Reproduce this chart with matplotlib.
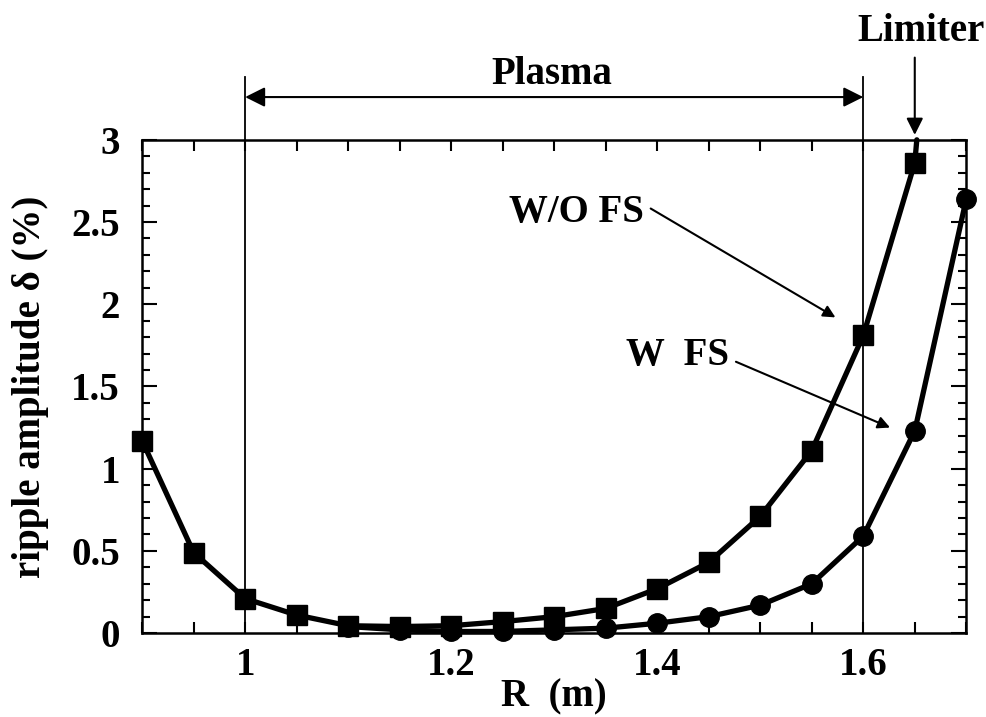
import matplotlib
matplotlib.use("Agg")
import matplotlib.pyplot as plt
from matplotlib.ticker import MultipleLocator

# Ripple amplitude without ferritic steel (squares)
r_wo = [0.90, 0.95, 1.00, 1.05, 1.10, 1.15, 1.20, 1.25, 1.30, 1.35,
        1.40, 1.45, 1.50, 1.55, 1.60, 1.65]
d_wo = [1.17, 0.49, 0.21, 0.11, 0.045, 0.04, 0.045, 0.07, 0.10, 0.15,
        0.27, 0.43, 0.71, 1.11, 1.81, 2.86]
# line carries on to the limiter at the top of the frame
r_wo_end = [1.65, 1.652]
d_wo_end = [2.86, 3.0]

# Ripple amplitude with ferritic steel (circles)
r_w = [1.10, 1.15, 1.20, 1.25, 1.30, 1.35, 1.40, 1.45, 1.50, 1.55,
       1.60, 1.65, 1.70]
d_w = [0.04, 0.02, 0.01, 0.01, 0.02, 0.03, 0.06, 0.10, 0.17, 0.30,
       0.59, 1.23, 2.64]

plasma_edges = [1.0, 1.6]
limiter_r = 1.65

plt.rcParams["font.family"] = "Liberation Serif"
plt.rcParams["font.weight"] = "bold"
plt.rcParams["font.size"] = 28
plt.rcParams["axes.linewidth"] = 1.8

fig = plt.figure(figsize=(9.87, 7.17), dpi=100)
ax = fig.add_axes([0.144, 0.117, 0.835, 0.688])

ax.plot(r_wo_end, d_wo_end, "k-", linewidth=3.8, solid_capstyle="round",
        clip_on=False, zorder=3)
ax.plot(r_wo, d_wo, "k-", marker="s", markersize=14, linewidth=3.8,
        clip_on=False, zorder=4)
ax.plot(r_w, d_w, "k-", marker="o", markersize=14, linewidth=3.8,
        clip_on=False, zorder=4)

# plasma boundaries
for x in plasma_edges:
    ax.plot([x, x], [0, 3.38], "k-", linewidth=1.3, clip_on=False, zorder=2)

ax.annotate("", xy=(plasma_edges[1], 3.26), xytext=(plasma_edges[0], 3.26),
            annotation_clip=False,
            arrowprops=dict(arrowstyle="<|-|>", color="k", lw=1.5,
                            mutation_scale=30, shrinkA=0, shrinkB=0))
ax.text(sum(plasma_edges) / 2 - 0.002, 3.34, "Plasma", ha="center",
        va="baseline", fontsize=28, fontweight="bold")

# limiter
ax.text(1.656, 3.6, "Limiter", ha="center", va="baseline",
        fontsize=28, fontweight="bold")
ax.annotate("", xy=(limiter_r, 3.03), xytext=(limiter_r, 3.5),
            annotation_clip=False,
            arrowprops=dict(arrowstyle="-|>", color="k", lw=1.5,
                            mutation_scale=25, shrinkA=0, shrinkB=0))

ax.annotate("W/O FS", xy=(1.573, 1.92), xytext=(1.322, 2.56),
            ha="center", va="center", fontsize=28, fontweight="bold",
            arrowprops=dict(arrowstyle="-|>", color="k", lw=1.5,
                            mutation_scale=18, shrinkA=3, shrinkB=0,
                            relpos=(1.0, 0.7)))
ax.annotate("W  FS", xy=(1.626, 1.25), xytext=(1.42, 1.69),
            ha="center", va="center", fontsize=28, fontweight="bold",
            arrowprops=dict(arrowstyle="-|>", color="k", lw=1.5,
                            mutation_scale=18, shrinkA=3, shrinkB=0,
                            relpos=(1.0, 0.4)))

ax.set_xlim(0.9, 1.7)
ax.set_ylim(0, 3)
ax.set_xticks([1.0, 1.2, 1.4, 1.6])
ax.set_xticklabels(["1", "1.2", "1.4", "1.6"])
ax.xaxis.set_minor_locator(MultipleLocator(0.05))
ax.set_yticks([0, 0.5, 1, 1.5, 2, 2.5, 3])
ax.set_yticklabels(["0", "0.5", "1", "1.5", "2", "2.5", "3"])
ax.yaxis.set_minor_locator(MultipleLocator(0.1))
ax.tick_params(which="both", direction="in", top=True, right=True,
               width=1.5, labelsize=28)
ax.tick_params(axis="x", which="both", length=8, pad=10)
ax.tick_params(axis="y", which="major", length=11, pad=16)
ax.tick_params(axis="y", which="minor", length=6)

ax.set_xlabel("R  (m)", fontsize=28, fontweight="bold", labelpad=-4)
ax.set_ylabel("ripple amplitude δ (%)", fontsize=28, fontweight="bold",
              labelpad=16)

fig.savefig("out.png", dpi=100)
